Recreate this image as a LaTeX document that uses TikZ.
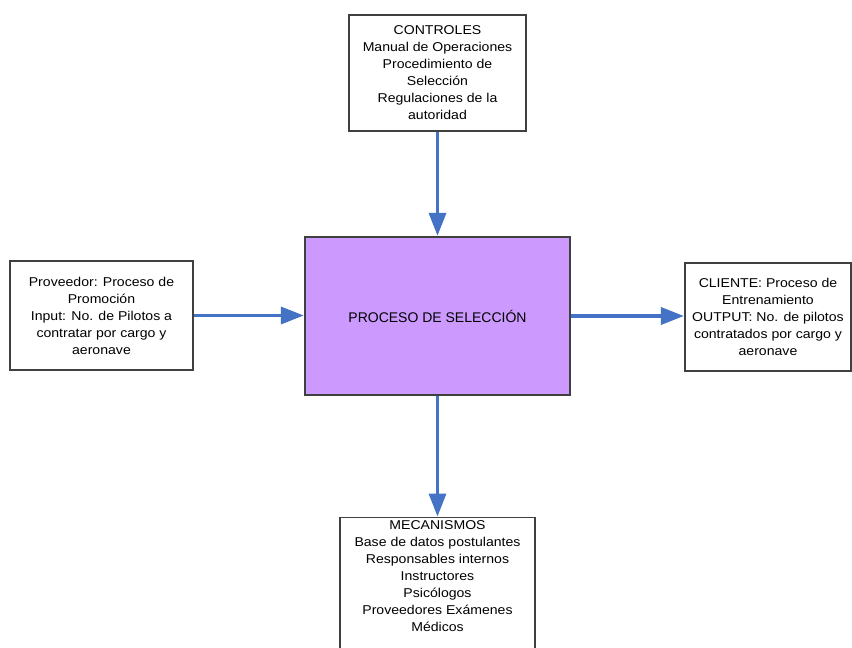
\documentclass[tikz,border=0pt]{standalone}
\usepackage{fontspec}
\setmainfont{Liberation Sans}
\newfontfamily\boxfont[FakeStretch=1.1]{Liberation Sans}
\usetikzlibrary{arrows.meta}
\definecolor{flowblue}{RGB}{68,114,196}
\definecolor{procfill}{RGB}{204,153,255}
\definecolor{edgegray}{RGB}{64,64,64}
\tikzset{
  infobox/.style={draw=edgegray, line width=1.2pt, fill=white, align=center,
    inner sep=0pt, font=\boxfont\fontsize{12.8}{17}\selectfont},
  procbox/.style={draw=edgegray, line width=1.4pt, fill=procfill, align=center,
    inner sep=0pt, font=\fontsize{14}{17}\selectfont},
  flow/.style={draw=flowblue, line width=3.5pt,
    -{Triangle[length=23pt,width=17pt]}, shorten >=0.5pt},
}
\begin{document}
\begin{tikzpicture}[x=1pt,y=-1pt]
\clip (0,0) rectangle (852,648);
\fill[white] (0,0) rectangle (852,648);

% central process
\node[procbox, minimum width=265pt, minimum height=158pt] (proc) at (437.5,316)
  {PROCESO DE SELECCIÓN};

% controls (top)
\node[infobox, minimum width=177pt, minimum height=116pt] (ctrl) at (437.5,73)
  {CONTROLES\\Manual de Operaciones\\Procedimiento de\\Selección\\Regulaciones de la\\autoridad};

% supplier / input (left)
\node[infobox, minimum width=183pt, minimum height=109pt] (supp) at (101.5,315.5)
  {Proveedor: Proceso de\\Promoción\\Input: No. de Pilotos a\\contratar por cargo y\\aeronave};

% client / output (right)
\node[infobox, minimum width=166pt, minimum height=108pt] (client) at (768,317)
  {CLIENTE: Proceso de\\Entrenamiento\\OUTPUT: No. de pilotos\\contratados por cargo y\\aeronave};

% mechanisms (bottom), text hung from the top edge
\node[infobox, minimum width=195pt, minimum height=150pt, anchor=north] (mech) at (437.5,517) {};
\node[inner sep=0pt, align=center, anchor=north, font=\boxfont\fontsize{12.8}{17}\selectfont]
  (mechtext) at ([yshift=-3pt]mech.north)
  {MECANISMOS\\Base de datos postulantes\\Responsables internos\\Instructores\\Psicólogos\\Proveedores Exámenes\\Médicos};

% flows
\draw[flow] (ctrl.south) -- (proc.north);
\draw[flow] (supp.east) -- (supp.east -| proc.west);
\draw[flow] (proc.east) -- (proc.east -| client.west);
\draw[flow] (proc.south) -- (mech.north);
\end{tikzpicture}
\end{document}
